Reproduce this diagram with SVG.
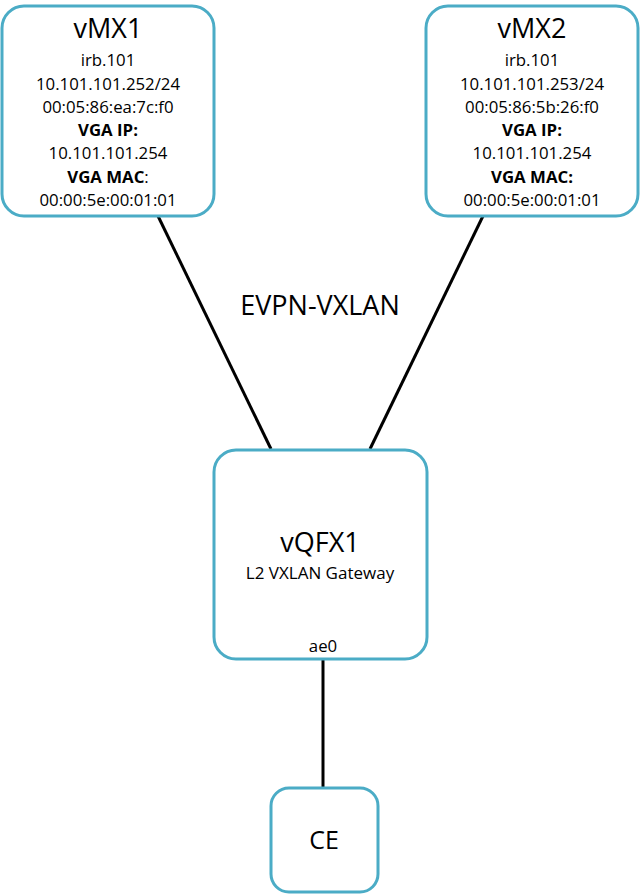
<svg xmlns="http://www.w3.org/2000/svg" width="640" height="895" viewBox="0 0 640 895">
<style>
.box{fill:#ffffff;stroke:#4bacc6;stroke-width:3}
.t{font-family:"Open Sans","Liberation Sans",sans-serif;fill:#000;text-anchor:middle}
.title{font-size:27px}
.body{font-size:16.8px}
.b{font-weight:bold}
.link{stroke:#000;stroke-width:3;fill:none}
</style>
<rect width="640" height="895" fill="#ffffff"/>
<g id="connectors">
<line class="link" x1="158" y1="216" x2="271" y2="449"/>
<line class="link" x1="483" y1="216" x2="370" y2="449"/>
<line class="link" x1="323" y1="659" x2="323" y2="787"/>
<text class="t" x="320" y="315" style="font-size:27px">EVPN-VXLAN</text>
</g>
<g id="vMX1">
<rect class="box" x="2" y="6" width="212" height="210" rx="22"/>
<text class="t title" x="108" y="38">vMX1</text>
<text class="t body" x="108" y="66">irb.101</text>
<text class="t body" x="108" y="89.5">10.101.101.252/24</text>
<text class="t body" x="108" y="113">00:05:86:ea:7c:f0</text>
<text class="t body b" x="108" y="136">VGA IP:</text>
<text class="t body" x="108" y="159">10.101.101.254</text>
<text class="t body" x="108" y="182.5"><tspan class="b">VGA MAC</tspan>:</text>
<text class="t body" x="108" y="206">00:00:5e:00:01:01</text>
</g>
<g id="vMX2">
<rect class="box" x="426" y="6" width="212" height="210" rx="22"/>
<text class="t title" x="532" y="38">vMX2</text>
<text class="t body" x="532" y="66">irb.101</text>
<text class="t body" x="532" y="89.5">10.101.101.253/24</text>
<text class="t body" x="532" y="113">00:05:86:5b:26:f0</text>
<text class="t body b" x="532" y="136">VGA IP:</text>
<text class="t body" x="532" y="159">10.101.101.254</text>
<text class="t body b" x="532" y="182.5">VGA MAC:</text>
<text class="t body" x="532" y="206">00:00:5e:00:01:01</text>
</g>
<g id="vQFX1">
<rect class="box" x="214" y="450" width="213" height="209" rx="22"/>
<text class="t title" x="320" y="552">vQFX1</text>
<text class="t" x="320" y="579" style="font-size:17px">L2 VXLAN Gateway</text>
<text class="t body" x="323" y="652">ae0</text>
</g>
<g id="CE">
<rect class="box" x="271" y="788" width="107" height="104" rx="18"/>
<text class="t" x="324" y="849" style="font-size:25px">CE</text>
</g>
</svg>
